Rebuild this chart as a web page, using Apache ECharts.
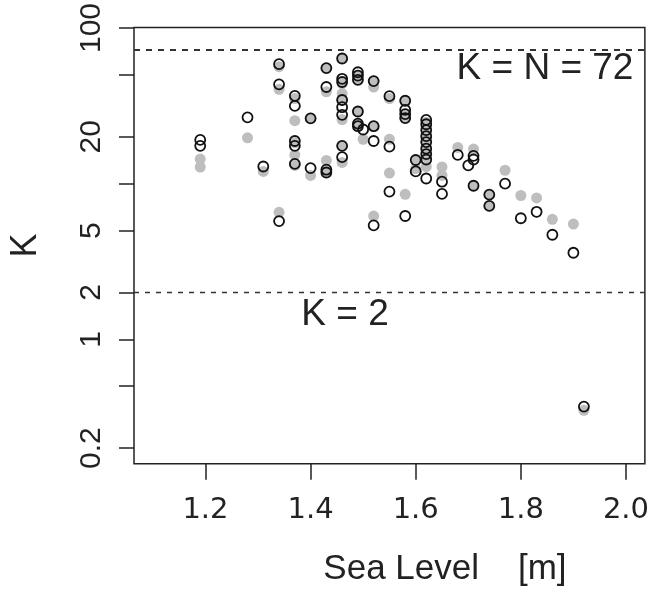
<!DOCTYPE html>
<html><head><meta charset="utf-8">
<script src="https://cdn.jsdelivr.net/npm/echarts@6/dist/echarts.min.js"></script>
<style>html,body{margin:0;padding:0;background:#fff}#c{width:652px;height:592px}</style>
</head><body><div id="c"></div>
<script>
// ---- data ----
const xTicks = [1.2, 1.4, 1.6, 1.8, 2.0];
const yTickValues = [0.2, 0.5, 1, 2, 5, 10, 20, 50, 100];
const yTickLabels = [0.2, 1, 2, 5, 20, 100];
const refK = [72, 2];
const refText = ['K = N = 72', 'K = 2'];

// gray filled points (sea level [m], K)
const grayLevel = [1.19,1.19, 1.28, 1.31, 1.34,1.34,1.34, 1.37,1.37,1.37,1.37,1.37, 1.40,1.40,
  1.43,1.43,1.43,1.43, 1.46,1.46,1.46,1.46,1.46,1.46,1.46, 1.49,1.49,1.49,1.49, 1.50,
  1.52,1.52,1.52,1.52, 1.55,1.55,1.55, 1.58,1.58,1.58,1.58, 1.60,1.60,
  1.62,1.62,1.62,1.62,1.62,1.62,1.62,1.62, 1.65,1.65, 1.68, 1.71,1.71, 1.74,1.74,
  1.77, 1.80, 1.83, 1.86, 1.90, 1.92];
const grayK = [14.4,12.8, 19.7, 12.0, 56.5,40.4,6.55, 35.2,25.4,18.3,15.3,13.1, 26.3,11.3,
  55.3,38.9,14.1,12.0, 63.7,44.0,37.9,34.5,25.8,17.5,13.7, 50.0,47.0,29.1,24.0, 19.3,
  45.6,41.8,23.4,6.2, 35.2,19.3,11.7, 34.1,28.0,26.4,8.55, 14.2,12.5,
  24.8,23.1,21.1,19.4,17.5,16.0,14.9,12.9, 12.8,11.3, 17.1, 16.7,9.7, 8.5,7.2,
  12.2, 8.4, 8.1, 5.9, 5.5, 0.35];

// open circles (sea level [m], K)
const openLevel = [1.19,1.19, 1.28, 1.31, 1.34,1.34,1.34, 1.37,1.37,1.37,1.37,1.37, 1.40,1.40,
  1.43,1.43,1.43,1.43, 1.46,1.46,1.46,1.46,1.46,1.46,1.46,1.46, 1.49,1.49,1.49,1.49,1.49,1.49, 1.50,
  1.52,1.52,1.52,1.52, 1.55,1.55,1.55, 1.58,1.58,1.58,1.58,1.58, 1.60,1.60,
  1.62,1.62,1.62,1.62,1.62,1.62,1.62,1.62,1.62, 1.65,1.65, 1.68, 1.70, 1.71,1.71,1.71,
  1.74,1.74, 1.77, 1.80, 1.83, 1.86, 1.90, 1.92];
const openK = [19.1,17.5, 26.7, 12.9, 58.6,43.5,5.75, 36.7,31.6,18.8,17.5,13.4, 26.3,12.6,
  55.3,41.8,12.3,11.8, 63.7,47.2,45.0,34.5,31.0,27.7,17.5,14.8, 52.0,49.5,46.5,29.1,24.3,23.4, 22.3,
  45.6,23.4,18.8,5.4, 36.5,17.3,8.9, 34.1,29.8,28.0,26.4,6.2, 14.2,12.0,
  25.7,24.1,22.1,20.2,18.5,16.8,15.5,14.3,10.8, 10.3,8.6, 15.3, 13.1, 15.1,14.3,9.7,
  8.5,7.2, 10.0, 6.0, 6.6, 4.7, 3.6, 0.37];

// ---- chart ----
const zip = (a, b) => a.map((v, i) => [v, b[i]]);
const chart = echarts.init(document.getElementById('c'), null, {renderer: 'canvas'});
const ink = '#222';
chart.setOption({
  animation: false,
  backgroundColor: '#fff',
  grid: {left: 133.7, top: 19.3, width: 511.6, height: 444.4, show: true,
         borderColor: ink, borderWidth: 1.5, backgroundColor: 'transparent'},
  xAxis: {
    type: 'value', min: 1.064, max: 2.036,
    splitLine: {show: false}, axisLine: {show: false},
    axisTick: {show: true, length: 16, customValues: xTicks, lineStyle: {color: ink, width: 1.5}},
    axisLabel: {customValues: xTicks, formatter: v => Number(v).toFixed(1), fontSize: 29,
      fontFamily: 'DejaVu Sans', color: ink, margin: 32},
    name: 'Sea Level    [m]', nameLocation: 'middle', nameGap: 88,
    nameTextStyle: {fontSize: 35, fontFamily: 'Liberation Sans', color: ink, padding: [0, 0, 0, 111]}
  },
  yAxis: {
    type: 'log', logBase: 10, min: 0.159, max: 100.9,
    splitLine: {show: false}, axisLine: {show: false},
    axisTick: {show: true, length: 15, customValues: yTickValues, lineStyle: {color: ink, width: 1.5}},
    axisLabel: {customValues: yTickLabels, rotate: 90, fontSize: 30, fontFamily: 'Liberation Sans',
      color: ink, margin: 27, formatter: v => String(+Number(v).toPrecision(3))},
    name: 'K', nameLocation: 'middle', nameGap: 90, nameRotate: 90,
    nameTextStyle: {fontSize: 36, fontFamily: 'Liberation Sans', color: ink}
  },
  series: [
    {
      type: 'scatter', name: 'gray', data: zip(grayLevel, grayK),
      symbol: 'circle', symbolSize: 11, z: 2,
      itemStyle: {color: '#bebebe', opacity: 1},
      emphasis: {disabled: true},
      markLine: {
        silent: true, symbol: 'none', label: {show: false},
        data: [
          {yAxis: refK[0], lineStyle: {type: [6, 6], color: '#333', width: 1.8}},
          {yAxis: refK[1], lineStyle: {type: [5, 6], color: '#333', width: 1.4}}
        ]
      }
    },
    {
      type: 'scatter', name: 'open', data: zip(openLevel, openK),
      symbol: 'circle', symbolSize: 10, z: 3,
      itemStyle: {color: 'rgba(0,0,0,0)', borderColor: '#111', borderWidth: 1.8, opacity: 1},
      emphasis: {disabled: true}
    }
  ],
  graphic: [
    {type: 'text', x: 545, y: 69, style: {text: refText[0], fontSize: 37, fontFamily: 'Liberation Sans',
      fill: ink, textAlign: 'center', textVerticalAlign: 'middle'}},
    {type: 'text', x: 345, y: 315, style: {text: refText[1], fontSize: 37, fontFamily: 'Liberation Sans',
      fill: ink, textAlign: 'center', textVerticalAlign: 'middle'}}
  ]
});
</script>
</body></html>
